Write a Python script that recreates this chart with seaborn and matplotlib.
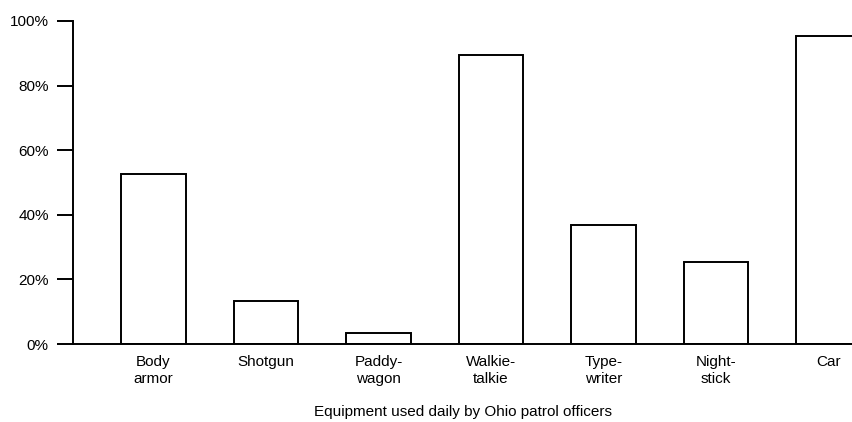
import matplotlib
matplotlib.use('Agg')
import matplotlib.pyplot as plt
import seaborn as sns
import pandas as pd
from matplotlib.ticker import PercentFormatter

# values (percent of officers)
equipment = ['Body\narmor', 'Shotgun', 'Paddy-\nwagon', 'Walkie-\ntalkie',
             'Type-\nwriter', 'Night-\nstick', 'Car']
share = [52.6, 13.3, 3.4, 89.5, 36.8, 25.4, 95.4]
y_ticks = [0, 20, 40, 60, 80, 100]

df = pd.DataFrame({'equipment': equipment, 'share': share})

sns.set_style('ticks')
plt.rcParams['font.family'] = ['Liberation Sans', 'DejaVu Sans']
plt.rcParams['text.color'] = 'black'
plt.rcParams['xtick.color'] = 'black'
plt.rcParams['ytick.color'] = 'black'
plt.rcParams['axes.labelcolor'] = 'black'

fig = plt.figure(figsize=(8.53, 4.22), dpi=100)
ax = fig.add_axes([73 / 853, 1 - 344 / 422, 1 - 73 / 853, (344 - 21) / 422])

sns.barplot(data=df, x='equipment', y='share', color='white',
            edgecolor='black', linewidth=1.4, width=0.57, ax=ax)

ax.set_xlim(-0.716, 6.218)
ax.set_ylim(0, 100)
ax.set_yticks(y_ticks)
ax.yaxis.set_major_formatter(PercentFormatter(decimals=0))
ax.tick_params(axis='y', length=11.5, width=1.4, pad=6, labelsize=11)
ax.tick_params(axis='x', length=0, pad=8, labelsize=11)
for lbl in ax.get_xticklabels():
    lbl.set_linespacing(1.25)

for side in ['top', 'right']:
    ax.spines[side].set_visible(False)
for side in ['left', 'bottom']:
    ax.spines[side].set_linewidth(1.4)
    ax.spines[side].set_color('black')

ax.set_ylabel('')
ax.set_xlabel('Equipment used daily by Ohio patrol officers', fontsize=11, labelpad=14)

fig.savefig('out.png', dpi=100)
